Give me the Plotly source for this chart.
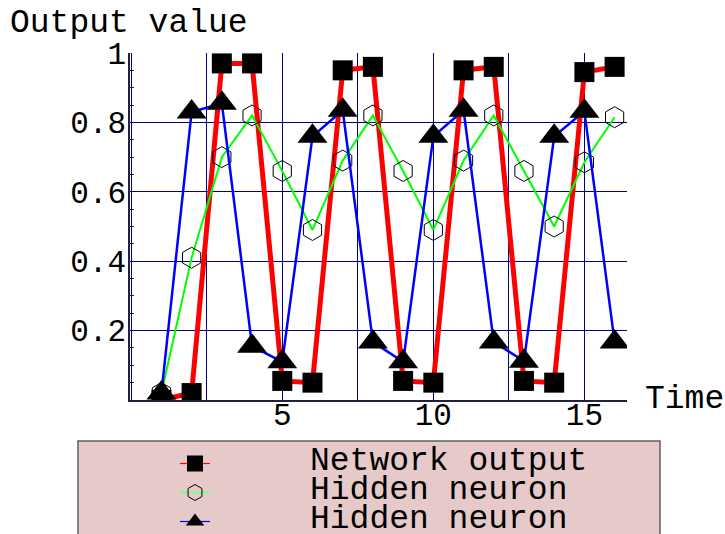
import plotly.graph_objects as go

# ---- data ----
time = list(range(1, 17))
network_output = [0.00, 0.02, 0.97, 0.97, 0.055, 0.05, 0.95, 0.96,
                  0.055, 0.05, 0.95, 0.96, 0.055, 0.05, 0.945, 0.96]
hidden_a = [0.02, 0.41, 0.70, 0.82, 0.66, 0.49, 0.69, 0.82,
            0.66, 0.49, 0.69, 0.82, 0.66, 0.50, 0.685, 0.815]
hidden_b = [0.02, 0.83, 0.855, 0.155, 0.11, 0.76, 0.835, 0.167,
            0.11, 0.76, 0.835, 0.167, 0.112, 0.76, 0.832, 0.167]
x_tick_vals = [5, 10, 15]
y_tick_vals = [0.2, 0.4, 0.6, 0.8, 1.0]
y_tick_text = ["0.2", "0.4", "0.6", "0.8", "1"]
series_names = ["Network output", "Hidden neuron", "Hidden neuron"]

# ---- layout geometry ----
W, H = 725, 534
L, R, T, B = 130, 627, 53, 400
FONT = "Liberation Mono"
GRID = "#000080"
AXIS = "#202040"


def px_x(px):
    return (px - L) / (R - L)


def px_y(py):
    return (B - py) / (B - T)


fig = go.Figure()

styles = [
    dict(line=dict(color="#ff0000", width=5),
         marker=dict(symbol="square", size=20, color="black")),
    dict(line=dict(color="#00ff00", width=2),
         marker=dict(symbol="hexagon-open", size=21, color="black",
                     line=dict(color="black", width=1))),
    dict(line=dict(color="#0000ff", width=2.5),
         marker=dict(symbol="triangle-up", size=26, color="black")),
]
legend_styles = [
    dict(line=dict(color="#ff0000", width=1.2),
         marker=dict(symbol="square", size=16, color="black")),
    dict(line=dict(color="#80ff80", width=2),
         marker=dict(symbol="hexagon-open", size=16, color="black",
                     line=dict(color="black", width=1))),
    dict(line=dict(color="#0000ff", width=1.2),
         marker=dict(symbol="triangle-up", size=16, color="black")),
]
series = [network_output, hidden_a, hidden_b]

for name, vals, st in zip(series_names, series, styles):
    fig.add_trace(go.Scatter(x=time, y=vals, mode="lines+markers", name=name,
                             showlegend=False, **st))

# legend symbols only (text placed as annotations)
for st in legend_styles:
    fig.add_trace(go.Scatter(x=[None], y=[None], mode="lines+markers",
                             name="\u00a0", showlegend=True, **st))

xaxis = dict(range=[-0.04, 16.41], tickvals=x_tick_vals,
             showgrid=True, gridcolor=GRID, gridwidth=1,
             showline=True, linecolor=AXIS, linewidth=1.5,
             ticks="inside", ticklen=7, tickcolor=GRID,
             tickfont=dict(size=31, family=FONT),
             minor=dict(dtick=2.5, tick0=0, showgrid=True,
                        gridcolor=GRID, gridwidth=1, ticks=""),
             zeroline=False)
yaxis = dict(range=[0, 1.0], tickvals=y_tick_vals, ticktext=y_tick_text,
             showgrid=True, gridcolor=GRID, gridwidth=1,
             showline=True, linecolor=AXIS, linewidth=1.5,
             ticks="inside", ticklen=6, tickcolor=GRID,
             tickfont=dict(size=31, family=FONT),
             minor=dict(dtick=0.05, tick0=0, ticks="inside", ticklen=4,
                        tickcolor=AXIS, showgrid=False),
             zeroline=False)

# pull tick labels closer to the axes (fallback if negative is rejected)
try:
    go.layout.XAxis(ticklabelstandoff=-14)
    xaxis["ticklabelstandoff"] = -14
except ValueError:
    pass
try:
    go.layout.YAxis(ticklabelstandoff=-4)
    yaxis["ticklabelstandoff"] = -4
except ValueError:
    pass

fig.update_layout(
    width=W, height=H,
    margin=dict(l=L, r=W - R, t=T, b=H - B, autoexpand=False),
    paper_bgcolor="white", plot_bgcolor="white",
    font=dict(family=FONT, color="black"),
    xaxis=xaxis, yaxis=yaxis,
    legend=dict(x=px_x(175), y=px_y(444), xanchor="left", yanchor="top",
                bgcolor="rgba(0,0,0,0)", borderwidth=0,
                font=dict(size=20, family=FONT), itemwidth=30,
                tracegroupgap=0),
    shapes=[dict(type="rect", xref="paper", yref="paper",
                 x0=px_x(78), x1=px_x(660), y0=px_y(441), y1=px_y(570),
                 fillcolor="#e6caca", line=dict(color="#606060", width=1.5),
                 layer="below")],
)

annotations = [
    dict(text="Output value", x=px_x(8), y=px_y(23), xanchor="left",
         yanchor="middle", font=dict(size=33)),
    dict(text="Time", x=px_x(643), y=px_y(399), xanchor="left",
         yanchor="middle", font=dict(size=33)),
]
for i, name in enumerate(series_names):
    annotations.append(dict(text=name, x=px_x(308), y=px_y(461 + 29 * i),
                            xanchor="left", yanchor="middle",
                            font=dict(size=33)))
for a in annotations:
    a.update(xref="paper", yref="paper", showarrow=False,
             font=dict(family=FONT, color="black", size=a["font"]["size"]))
fig.update_layout(annotations=annotations)

fig.write_html("out.html",
               config={"displayModeBar": False},
               post_script="document.body.style.margin='0px';"
                           "document.body.style.overflow='hidden';")
